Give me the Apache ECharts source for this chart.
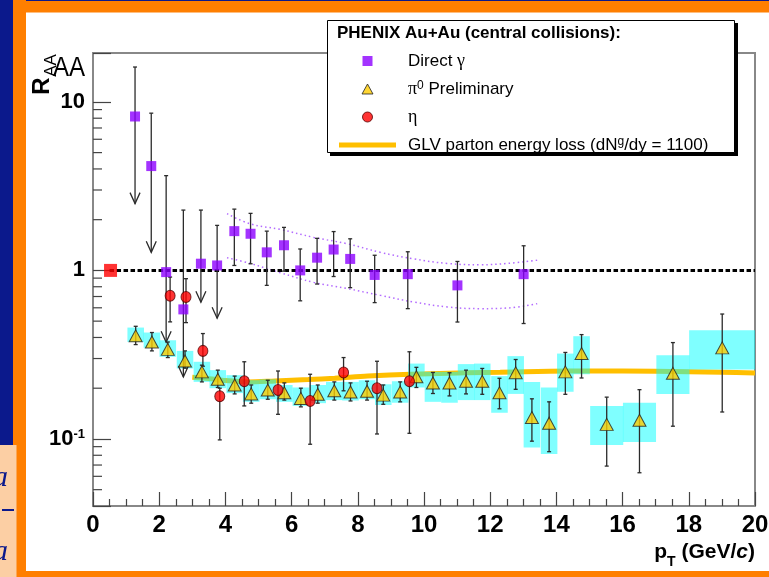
<!DOCTYPE html>
<html>
<head>
<meta charset="utf-8">
<script src="https://cdn.jsdelivr.net/npm/echarts@6/dist/echarts.min.js"></script>
<style>
  html, body { margin: 0; padding: 0; background: #ffffff; }
  #chart { width: 769px; height: 577px; }
</style>
</head>
<body>
<div id="chart"></div>
<script>
// ---------- data: nuclear modification factor R_AA vs pT, central Au+Au ----------

// Direct photons (first six points are upper limits drawn with arrows)
const gammaPt    = [1.27, 1.76, 2.21, 2.73, 3.26, 3.75, 4.27, 4.76, 5.25, 5.77, 6.26, 6.77, 7.27, 7.77, 8.51, 9.51, 11.01, 13.01];
const gammaRaa   = [8.19, 4.16, 0.977, 0.587, 1.096, 1.07, 1.71, 1.65, 1.28, 1.41, 1.00, 1.19, 1.33, 1.17, 0.94, 0.95, 0.815, 0.95];
const gammaHi    = [16.1, 8.57, 3.65, 2.28, 2.28, 1.85, 2.31, 2.18, 1.71, 1.80, 1.34, 1.55, 1.70, 1.54, 1.23, 1.29, 1.13, 1.40];
const gammaLo    = [2.49, 1.28, 0.375, 0.233, 0.647, 0.52, 1.07, 1.095, 0.815, 0.99, 0.66, 0.83, 0.92, 0.79, 0.644, 0.593, 0.494, 0.484];
const gammaLimit = [1, 1, 1, 1, 1, 1, 0, 0, 0, 0, 0, 0, 0, 0, 0, 0, 0, 0];

// Expected direct photon band (upper / lower edge)
const gammaBandPt = [4.05, 4.75, 5.66, 6.67, 7.68, 8.68, 9.69, 10.70, 11.71, 12.52, 13.42];
const gammaBandHi = [2.17, 1.89, 1.75, 1.57, 1.44, 1.28, 1.17, 1.10, 1.08, 1.10, 1.15];
const gammaBandLo = [1.19, 1.10, 0.969, 0.849, 0.78, 0.711, 0.649, 0.607, 0.593, 0.598, 0.635];

// pi0 (preliminary): value, statistical range, systematic range, half bin width
const pi0Pt    = [1.29, 1.78, 2.26, 2.78, 3.29, 3.77, 4.28, 4.78, 5.28, 5.78, 6.28, 6.79, 7.29, 7.78, 8.28, 8.77, 9.28, 9.77, 10.27, 10.77, 11.27, 11.76, 12.28, 12.77, 13.26, 13.78, 14.27, 14.76, 15.52, 16.51, 17.52, 19.01];
const pi0Raa   = [0.409, 0.376, 0.34, 0.29, 0.25, 0.226, 0.209, 0.185, 0.195, 0.188, 0.174, 0.184, 0.193, 0.19, 0.192, 0.182, 0.19, 0.234, 0.215, 0.215, 0.22, 0.22, 0.188, 0.247, 0.134, 0.124, 0.25, 0.321, 0.122, 0.129, 0.245, 0.347];
const pi0StatHi = [0.466, 0.428, 0.376, 0.333, 0.274, 0.256, 0.236, 0.209, 0.223, 0.215, 0.20, 0.209, 0.218, 0.215, 0.220, 0.209, 0.218, 0.266, 0.248, 0.247, 0.256, 0.262, 0.229, 0.296, 0.173, 0.166, 0.326, 0.416, 0.177, 0.196, 0.373, 0.551];
const pi0StatLo = [0.363, 0.333, 0.304, 0.263, 0.218, 0.202, 0.185, 0.163, 0.172, 0.170, 0.155, 0.163, 0.170, 0.168, 0.170, 0.1605, 0.166, 0.202, 0.186, 0.180, 0.185, 0.184, 0.151, 0.197, 0.097, 0.084, 0.184, 0.230, 0.069, 0.063, 0.119, 0.1445];
const pi0SysHi = [0.458, 0.428, 0.385, 0.333, 0.287, 0.256, 0.239, 0.223, 0.2255, 0.209, 0.202, 0.209, 0.218, 0.218, 0.223, 0.211, 0.220, 0.280, 0.25, 0.25, 0.278, 0.280, 0.236, 0.310, 0.218, 0.202, 0.321, 0.407, 0.157, 0.164, 0.314, 0.442];
const pi0SysLo = [0.376, 0.347, 0.307, 0.262, 0.218, 0.200, 0.187, 0.166, 0.172, 0.166, 0.157, 0.163, 0.170, 0.169, 0.172, 0.159, 0.164, 0.202, 0.166, 0.164, 0.170, 0.170, 0.143, 0.185, 0.089, 0.0815, 0.1905, 0.242, 0.092, 0.096, 0.185, 0.2585];
const pi0HalfBin = [0.25, 0.25, 0.25, 0.25, 0.25, 0.25, 0.25, 0.25, 0.25, 0.25, 0.25, 0.25, 0.25, 0.25, 0.25, 0.25, 0.25, 0.25, 0.25, 0.25, 0.25, 0.25, 0.25, 0.25, 0.25, 0.25, 0.25, 0.25, 0.5, 0.5, 0.5, 1.0];

// eta
const etaPt  = [2.33, 2.81, 3.32, 3.83, 4.57, 5.59, 6.56, 7.57, 8.58, 9.56];
const etaRaa = [0.708, 0.695, 0.333, 0.179, 0.22, 0.195, 0.168, 0.248, 0.20, 0.22];
const etaHi  = [0.913, 0.893, 0.422, 0.20, 0.287, 0.253, 0.242, 0.304, 0.289, 0.329];
const etaLo  = [0.495, 0.49, 0.27, 0.0987, 0.157, 0.14, 0.093, 0.193, 0.107, 0.108];

// GLV parton energy loss calculation
const glvPt  = [3.0, 3.5, 4.0, 4.7, 5.5, 6.5, 7.3, 8.3, 9.6, 11.3, 12.3, 13.8, 15.0, 17.0, 19.0, 20.0];
const glvRaa = [0.232, 0.228, 0.222, 0.218, 0.221, 0.225, 0.229, 0.236, 0.242, 0.247, 0.249, 0.252, 0.253, 0.252, 0.249, 0.246];

// R_AA = 1 reference and its normalisation uncertainty marker
const unityPt  = [0.5, 20];
const unityRaa = [1, 1];
const normPt  = [0.53];
const normRaa = [1];

// axis ticks and labels
const xTickLabels = ['0', '2', '4', '6', '8', '10', '12', '14', '16', '18', '20'];
const yMajorTicks = [0.1, 1, 10];
const yTickLabels = ['{b|10}{s|-1}', '{b|1}', '{b|10}'];

// ---------- chart ----------
const SANS = '"Liberation Sans", Arial, Helvetica, sans-serif';
const SERIF = '"Liberation Serif", "DejaVu Serif", serif';
const NAVY = '#0b198c';
const ORANGE = '#ff7f00';

const yMinorTicks = [];
for (let e = -2; e <= 1; e++) {
  for (let m = 2; m <= 9; m++) {
    const v = m * Math.pow(10, e);
    if (v > 0.0401 && v < 19.5) yMinorTicks.push(v);
  }
}

function renderErrorBar(params, api) {
  const x = api.value(0);
  const top = api.coord([x, api.value(2)]);
  const bot = api.coord([x, api.value(1)]);
  const isLimit = api.value(3) === 1;
  const s = { stroke: '#2b2b2b', lineWidth: 1.3 };
  const kids = [
    { type: 'line', shape: { x1: top[0], y1: top[1], x2: bot[0], y2: bot[1] }, style: s },
    { type: 'line', shape: { x1: top[0] - 2, y1: top[1], x2: top[0] + 2, y2: top[1] }, style: s }
  ];
  if (isLimit) {
    kids.push({ type: 'polyline',
      shape: { points: [[bot[0] - 5, bot[1] - 11], [bot[0], bot[1]], [bot[0] + 5, bot[1] - 11]] },
      style: { stroke: '#2b2b2b', lineWidth: 1.3, fill: null } });
  } else {
    kids.push({ type: 'line', shape: { x1: bot[0] - 2, y1: bot[1], x2: bot[0] + 2, y2: bot[1] }, style: s });
  }
  return { type: 'group', children: kids };
}

function renderSysBox(params, api) {
  const x = api.value(0), hw = api.value(3);
  const a = api.coord([x - hw, api.value(2)]);
  const b = api.coord([x + hw, api.value(1)]);
  return { type: 'rect', shape: { x: a[0], y: a[1], width: b[0] - a[0], height: b[1] - a[1] },
           style: { fill: 'rgba(0,255,255,0.5)' } };
}

function renderMinorTick(params, api) {
  const p = api.coord([0, api.value(1)]);
  return { type: 'line', shape: { x1: p[0], y1: p[1], x2: p[0] + 9, y2: p[1] },
           style: { stroke: '#444', lineWidth: 1.2 } };
}

const legendText = {
  gamma: '{g|}{t|Direct }{gr|γ}',
  pi0: '{g|}{gr|π}{sup|0}{t| Preliminary}',
  eta: '{g|}{gr|η}',
  glv: '{g|}{t|GLV parton energy loss (dN}{sup|g}{t|/dy = 1100)}'
};

const chart = echarts.init(document.getElementById('chart'), null, { renderer: 'canvas' });

chart.setOption({
  animation: false,
  backgroundColor: '#ffffff',
  grid: { left: 93, right: 14, top: 53, bottom: 71, show: true, borderColor: '#888', borderWidth: 2,
          outerBoundsMode: 'none' },
  xAxis: {
    type: 'value', min: 0, max: 20, interval: 2,
    axisLine: { show: true, onZero: false, lineStyle: { color: '#888', width: 2 } },
    axisTick: { show: true, inside: true, length: 14, lineStyle: { color: '#444', width: 1.2 } },
    minorTick: { show: true, splitNumber: 4, length: 7, lineStyle: { color: '#444', width: 1.2 } },
    splitLine: { show: false },
    axisLabel: { margin: 7, color: '#000', fontFamily: SANS, fontWeight: 'bold', fontSize: 24,
                 formatter: v => xTickLabels[Math.round(v / 2)] },
    name: '{p|p}{sub|T}{p| (GeV/}{i|c}{p|)}',
    nameLocation: 'end', nameGap: 0,
    nameTextStyle: {
      align: 'right', verticalAlign: 'top', padding: [36, 0, 0, 0], color: '#000',
      rich: {
        p: { fontFamily: SANS, fontWeight: 'bold', fontSize: 21, lineHeight: 21, verticalAlign: 'top' },
        i: { fontFamily: SANS, fontWeight: 'bold', fontStyle: 'italic', fontSize: 21, lineHeight: 21, verticalAlign: 'top' },
        sub: { fontFamily: SANS, fontWeight: 'bold', fontSize: 14, lineHeight: 14, verticalAlign: 'top', padding: [13, 0, 0, 0] }
      }
    }
  },
  yAxis: {
    type: 'log', logBase: 10, min: 0.04, max: 19.5,
    axisLine: { show: true, onZero: false, lineStyle: { color: '#888', width: 2 } },
    axisTick: { show: true, inside: true, length: 18, lineStyle: { color: '#444', width: 1.2 } },
    splitLine: { show: false },
    axisLabel: {
      margin: 8, color: '#000',
      formatter: v => {
        const i = yMajorTicks.findIndex(t => Math.abs(Math.log10(v) - Math.log10(t)) < 1e-6);
        return i < 0 ? '' : yTickLabels[i];
      },
      rich: {
        b: { fontFamily: SANS, fontWeight: 'bold', fontSize: 22, lineHeight: 22, verticalAlign: 'bottom' },
        s: { fontFamily: SANS, fontWeight: 'bold', fontSize: 13, lineHeight: 13, verticalAlign: 'top' }
      }
    }
  },
  legend: {
    orient: 'vertical', left: 339, top: 52, z: 6, padding: 0,
    itemWidth: 57, itemHeight: 10, itemGap: 10, selectedMode: false,
    itemStyle: { borderWidth: 1 },
    textStyle: {
      color: '#000', fontFamily: SANS, fontSize: 17,
      rich: {
        g: { width: 7 },
        t: { fontFamily: SANS, fontSize: 17, lineHeight: 18 },
        gr: { fontFamily: SERIF, fontSize: 18, lineHeight: 18 },
        sup: { fontFamily: SANS, fontSize: 12, lineHeight: 12, verticalAlign: 'top' }
      }
    },
    formatter: name => legendText[name],
    data: [
      { name: 'gamma', icon: 'path://M0,0H10V10H0Z' },
      { name: 'pi0', icon: 'path://M5.5,0L11,10H0Z' },
      { name: 'eta', icon: 'circle' },
      { name: 'glv', icon: 'path://M0,0H57V5H0Z' }
    ]
  },
  graphic: [
    // slide frame around the figure
    { type: 'rect', z: 0, shape: { x: 0, y: 0, width: 13, height: 445 }, style: { fill: NAVY } },
    { type: 'rect', z: 0, shape: { x: 13, y: 0, width: 13, height: 577 }, style: { fill: ORANGE } },
    { type: 'rect', z: 0, shape: { x: 13, y: 0, width: 756, height: 12.5 }, style: { fill: ORANGE } },
    { type: 'rect', z: 0, shape: { x: 26, y: 0, width: 743, height: 1 }, style: { fill: NAVY } },
    { type: 'rect', z: 0, shape: { x: 13, y: 571, width: 756, height: 6 }, style: { fill: ORANGE } },
    { type: 'rect', z: 0, shape: { x: 0, y: 445, width: 16.5, height: 132 }, style: { fill: '#fccfa4' } },
    { type: 'text', z: 1, x: -7, y: 478, style: { text: 'a', fontFamily: SERIF, fontStyle: 'italic', fontSize: 30, fill: NAVY, verticalAlign: 'middle' } },
    { type: 'rect', z: 1, shape: { x: 2, y: 509, width: 12, height: 2 }, style: { fill: NAVY } },
    { type: 'text', z: 1, x: -7, y: 552, style: { text: 'a', fontFamily: SERIF, fontStyle: 'italic', fontSize: 30, fill: NAVY, verticalAlign: 'middle' } },
    // y-axis title R_AA
    { type: 'text', z: 1, x: 42, y: 86, rotation: Math.PI / 2,
      style: { text: 'R', fontFamily: SANS, fontWeight: 'bold', fontSize: 24, fill: '#000', align: 'center', verticalAlign: 'middle' } },
    { type: 'text', z: 1, x: 51, y: 65.5, rotation: Math.PI / 2,
      style: { text: 'AA', fontFamily: SANS, fontSize: 17, fill: '#000', align: 'center', verticalAlign: 'middle' } },
    { type: 'text', z: 1, x: 69, y: 68, scaleX: 0.86,
      style: { text: 'AA', fontFamily: SANS, fontSize: 28, fill: '#000', align: 'center', verticalAlign: 'middle' } },
    // legend frame with drop shadow and heading
    { type: 'rect', z: 4, shape: { x: 330, y: 23, width: 408, height: 133 }, style: { fill: '#000' } },
    { type: 'rect', z: 5, shape: { x: 327.5, y: 20.5, width: 407, height: 132 }, style: { fill: '#fff', stroke: '#000', lineWidth: 1 } },
    { type: 'text', z: 6, x: 337, y: 33.5,
      style: { text: 'PHENIX Au+Au (central collisions):', fontFamily: SANS, fontWeight: 'bold', fontSize: 17, fill: '#000', verticalAlign: 'middle' } }
  ],
  series: [
    {
      name: 'glv', type: 'line', z: 1, symbol: 'none', smooth: 0.3, silent: true,
      lineStyle: { color: '#ffbf00', width: 5 }, itemStyle: { color: '#ffbf00' },
      data: glvPt.map((p, i) => [p, glvRaa[i]])
    },
    {
      type: 'custom', z: 2, silent: true, clip: true, renderItem: renderSysBox,
      encode: { x: 0, y: [1, 2] },
      data: pi0Pt.map((p, i) => [p, pi0SysLo[i], pi0SysHi[i], pi0HalfBin[i]])
    },
    {
      type: 'line', z: 2, symbol: 'none', smooth: 0.4, silent: true,
      lineStyle: { color: '#b36bff', width: 1.5, type: [1.5, 3] },
      data: gammaBandPt.map((p, i) => [p, gammaBandHi[i]])
    },
    {
      type: 'line', z: 2, symbol: 'none', smooth: 0.4, silent: true,
      lineStyle: { color: '#b36bff', width: 1.5, type: [1.5, 3] },
      data: gammaBandPt.map((p, i) => [p, gammaBandLo[i]])
    },
    {
      type: 'line', z: 3, symbol: 'none', silent: true,
      lineStyle: { color: '#000', width: 3, type: [4.5, 2.5] },
      data: unityPt.map((p, i) => [p, unityRaa[i]])
    },
    {
      type: 'custom', z: 4, silent: true, renderItem: renderMinorTick, clip: false,
      encode: { x: 0, y: 1 },
      data: yMinorTicks.map(v => [0, v])
    },
    {
      type: 'custom', z: 4, silent: true, renderItem: renderErrorBar,
      encode: { x: 0, y: [1, 2] },
      data: gammaPt.map((p, i) => [p, gammaLo[i], gammaHi[i], gammaLimit[i]])
    },
    {
      type: 'custom', z: 4, silent: true, renderItem: renderErrorBar,
      encode: { x: 0, y: [1, 2] },
      data: pi0Pt.map((p, i) => [p, pi0StatLo[i], pi0StatHi[i], 0])
    },
    {
      type: 'custom', z: 4, silent: true, renderItem: renderErrorBar,
      encode: { x: 0, y: [1, 2] },
      data: etaPt.map((p, i) => [p, etaLo[i], etaHi[i], 0])
    },
    {
      name: 'gamma', type: 'scatter', z: 5, symbol: 'rect', symbolSize: 10, silent: true,
      itemStyle: { color: '#8c00ff' },
      data: gammaPt.map((p, i) => [p, gammaRaa[i]])
    },
    {
      name: 'pi0', type: 'scatter', z: 5, symbol: 'triangle', symbolSize: [13, 12], silent: true,
      itemStyle: { color: '#ffcc00', borderColor: '#222', borderWidth: 1 },
      data: pi0Pt.map((p, i) => [p, pi0Raa[i]])
    },
    {
      name: 'eta', type: 'scatter', z: 5, symbol: 'circle', symbolSize: [10, 11], silent: true,
      itemStyle: { color: '#ff0000', borderColor: '#550000', borderWidth: 1 },
      data: etaPt.map((p, i) => [p, etaRaa[i]])
    },
    {
      type: 'scatter', z: 5, symbol: 'rect', symbolSize: 13, silent: true,
      itemStyle: { color: '#ff0000' },
      data: normPt.map((p, i) => [p, normRaa[i]])
    }
  ]
});
</script>
</body>
</html>
